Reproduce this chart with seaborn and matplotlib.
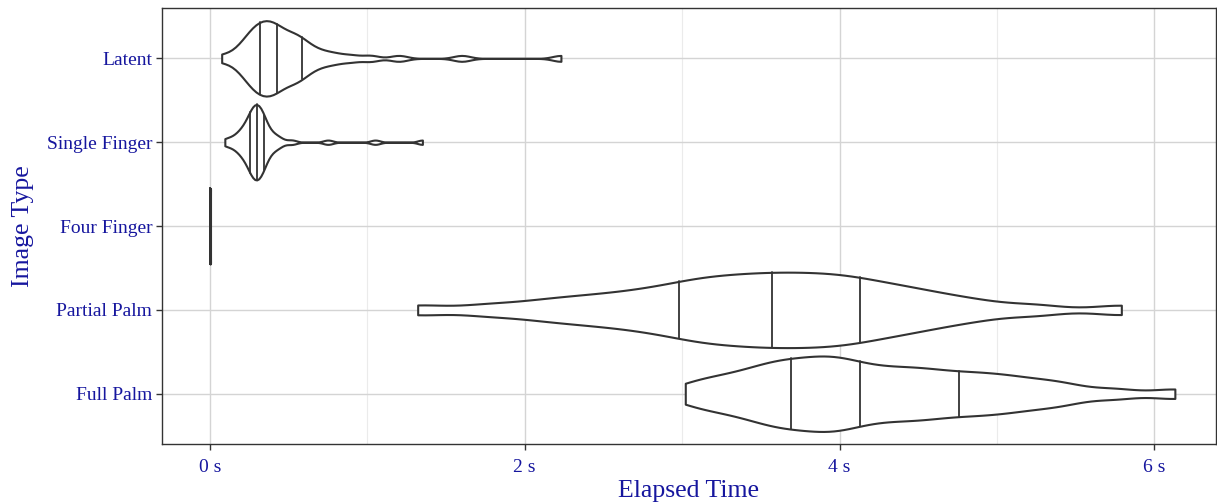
import matplotlib.pyplot as plt
import pandas as pd
import seaborn as sns

# image types, top to bottom
image_types = ["Latent", "Single Finger", "Four Finger", "Partial Palm", "Full Palm"]

# elapsed times (seconds)
latent_times = [
    0.075, 0.155, 0.192, 0.215, 0.234, 0.249, 0.262, 0.274, 0.285, 0.296,
    0.307, 0.317, 0.327, 0.337, 0.347, 0.357, 0.367, 0.377, 0.387, 0.397,
    0.407, 0.417, 0.427, 0.439, 0.452, 0.466, 0.48, 0.495, 0.51, 0.525,
    0.54, 0.555, 0.57, 0.585, 0.605, 0.63, 0.66, 0.70, 0.75, 0.81,
    0.90, 1.02, 1.20, 1.60, 2.23,
]
single_finger_times = [
    0.095, 0.13, 0.16, 0.178, 0.192, 0.204, 0.214, 0.223, 0.231, 0.239,
    0.247, 0.254, 0.258, 0.262, 0.266, 0.27, 0.274, 0.278, 0.282, 0.286,
    0.29, 0.294, 0.298, 0.302, 0.306, 0.31, 0.314, 0.318, 0.322, 0.327,
    0.332, 0.337, 0.34, 0.343, 0.352, 0.362, 0.374, 0.388, 0.405, 0.425,
    0.45, 0.52, 0.75, 1.05, 1.35,
]
four_finger_times = [0.0, 0.001, 0.002, 0.003, 0.004]
partial_palm_times = [
    1.32, 1.75, 2.03, 2.21, 2.36, 2.49, 2.61, 2.72, 2.81, 2.90,
    2.98, 3.05, 3.11, 3.17, 3.23, 3.29, 3.35, 3.41, 3.46, 3.52,
    3.57, 3.63, 3.68, 3.74, 3.79, 3.85, 3.90, 3.96, 4.02, 4.07,
    4.13, 4.20, 4.27, 4.35, 4.43, 4.52, 4.63, 4.76, 4.94, 5.25,
    5.79,
]
full_palm_times = [
    3.02, 3.13, 3.225, 3.31, 3.385, 3.45, 3.51, 3.56, 3.605, 3.65,
    3.69, 3.74, 3.79, 3.835, 3.875, 3.915, 3.955, 3.995, 4.035, 4.08,
    4.13, 4.19, 4.25, 4.31, 4.37, 4.43, 4.49, 4.55, 4.61, 4.68,
    4.76, 4.83, 4.90, 4.98, 5.06, 5.14, 5.25, 5.36, 5.48, 5.75,
    6.13,
]

x_ticks = [0, 2, 4, 6]
x_tick_labels = ["0 s", "2 s", "4 s", "6 s"]
x_minor_ticks = [1, 3, 5]

times_by_type = [latent_times, single_finger_times, four_finger_times,
                 partial_palm_times, full_palm_times]
df = pd.DataFrame({
    "Image Type": [t for t, vals in zip(image_types, times_by_type) for _ in vals],
    "Elapsed Time": [v for vals in times_by_type for v in vals],
})

sns.set_style("white")
plt.rcParams["font.family"] = ["Liberation Serif", "DejaVu Serif"]
text_color = "#16169e"
line_color = "#333333"

fig = plt.figure(figsize=(12.17, 5.04), dpi=100)
ax = fig.add_axes([0.133, 0.119, 0.866, 0.865])

# fingers need a narrower kernel than palms
is_palm = df["Image Type"].str.contains("Palm")
for subset, bw in [(df[~is_palm], 0.3), (df[is_palm], 0.4)]:
    sns.violinplot(
        data=subset, x="Elapsed Time", y="Image Type", order=image_types,
        orient="h", density_norm="width", cut=0, inner="quart", width=0.9,
        bw_adjust=bw, color="white", saturation=1, linecolor=line_color,
        linewidth=1.5, inner_kws={"linewidth": 1.3, "color": line_color}, ax=ax,
    )
# ggplot-style solid quantile lines, drawn above the white fill
for ln in ax.lines:
    ln.set_linestyle("-")
    ln.set_color(line_color)
    ln.set_zorder(4)

ax.set_xlim(-0.305, 6.39)
ax.set_ylim(4.6, -0.6)
ax.set_xticks(x_ticks)
ax.set_xticklabels(x_tick_labels)
ax.set_xticks(x_minor_ticks, minor=True)

ax.grid(True, which="major", color="#d4d4d4", linewidth=1.0, zorder=0)
ax.grid(True, which="minor", axis="x", color="#ebebeb", linewidth=0.8, zorder=0)
ax.set_axisbelow(True)

for s in ax.spines.values():
    s.set_color(line_color)
    s.set_linewidth(1.0)

ax.tick_params(axis="both", which="major", length=4, width=1, color=line_color,
               labelsize=14, labelcolor=text_color, pad=3)
ax.tick_params(axis="x", which="major", pad=7)
ax.tick_params(axis="x", which="minor", length=0)
ax.tick_params(axis="both", bottom=True, left=True)

ax.set_xlabel("Elapsed Time", fontsize=18.5, color=text_color, labelpad=3)
ax.set_ylabel("Image Type", fontsize=18.5, color=text_color, labelpad=9)

fig.savefig("out.png", dpi=100)
